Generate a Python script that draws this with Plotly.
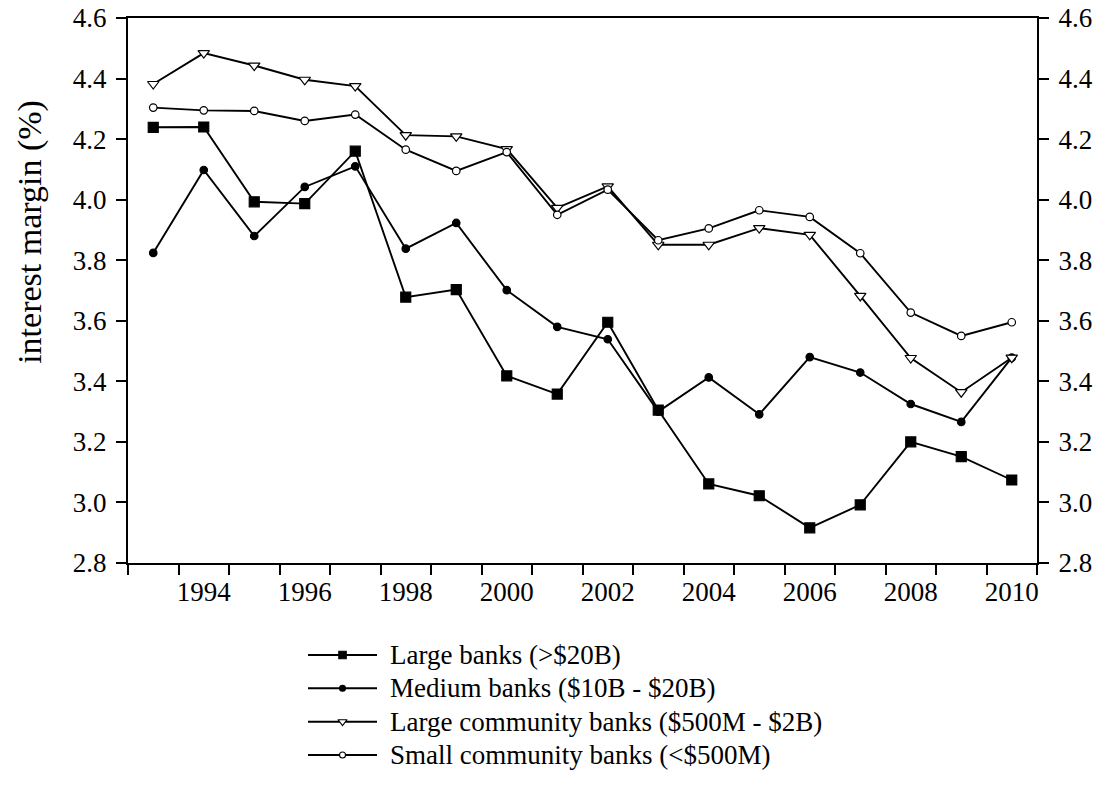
import plotly.graph_objects as go

years = list(range(1993, 2011))

large_banks = [4.239, 4.240, 3.993, 3.987, 4.160, 3.678, 3.703, 3.418, 3.358,
               3.595, 3.305, 3.061, 3.022, 2.916, 2.992, 3.200, 3.151, 3.074]
medium_banks = [3.824, 4.098, 3.880, 4.042, 4.110, 3.838, 3.923, 3.701, 3.580,
                3.539, 3.300, 3.413, 3.291, 3.480, 3.429, 3.325, 3.266, 3.478]
large_community = [4.382, 4.484, 4.443, 4.396, 4.375, 4.213, 4.209, 4.167, 3.973,
                   4.044, 3.851, 3.851, 3.906, 3.884, 3.682, 3.477, 3.364, 3.478]
small_community = [4.304, 4.295, 4.293, 4.260, 4.281, 4.165, 4.095, 4.157, 3.950,
                   4.033, 3.866, 3.905, 3.965, 3.943, 3.823, 3.627, 3.550, 3.595]

series_names = [
    "Large banks (>$20B)",
    "Medium banks ($10B - $20B)",
    "Large community banks ($500M - $2B)",
    "Small community banks (<$500M)",
]

label_years = list(range(1994, 2011, 2))
y_ticks = [2.8, 3.0, 3.2, 3.4, 3.6, 3.8, 4.0, 4.2, 4.4, 4.6]

FONT = "Liberation Serif, DejaVu Serif, serif"
BLACK = "#000000"

# marker styles: (symbol, size in plot, size in legend, fill)
styles = [
    ("square", 10, 7.5, BLACK),
    ("circle", 7.5, 6, BLACK),
    ("triangle-down", 10, 8, "white"),
    ("circle", 7.5, 6, "white"),
]
all_series = [large_banks, medium_banks, large_community, small_community]

fig = go.Figure()

for name, vals, (sym, size, _, fill) in zip(series_names, all_series, styles):
    fig.add_trace(go.Scatter(
        x=years, y=vals, name=name, mode="lines+markers",
        line=dict(color=BLACK, width=1.9),
        marker=dict(symbol=sym, size=size, color=fill,
                    line=dict(color=BLACK, width=1.2)),
        showlegend=False, xaxis="x", yaxis="y",
    ))

# invisible trace so the right-hand axis gets drawn
fig.add_trace(go.Scatter(x=[years[0]], y=[large_banks[0]], mode="markers",
                         marker=dict(opacity=0), showlegend=False,
                         hoverinfo="skip", xaxis="x", yaxis="y2"))

# legend drawn below the plot: a short line with the series marker in the middle
for row, (name, (sym, _, lsize, fill)) in enumerate(zip(series_names, styles), start=1):
    fig.add_trace(go.Scatter(
        x=[0, 1], y=[row, row], mode="lines",
        line=dict(color=BLACK, width=1.9), showlegend=False,
        hoverinfo="skip", xaxis="x2", yaxis="y3",
    ))
    fig.add_trace(go.Scatter(
        x=[0.5], y=[row], mode="markers",
        marker=dict(symbol=sym, size=lsize, color=fill,
                    line=dict(color=BLACK, width=1.1)),
        showlegend=False, hoverinfo="skip", xaxis="x2", yaxis="y3",
    ))
    fig.add_annotation(
        x=0.286, xref="paper", y=row, yref="y3",
        text=name, showarrow=False, xanchor="left", yanchor="middle",
        font=dict(family=FONT, size=27, color=BLACK),
    )

tick_font = dict(family=FONT, size=27, color=BLACK)
y_axis_common = dict(
    range=[2.8, 4.6], tickvals=y_ticks,
    ticktext=[f"{v:.1f}" for v in y_ticks],
    ticks="outside", ticklen=10, tickwidth=1.5, tickcolor=BLACK,
    showline=True, linecolor=BLACK, linewidth=2,
    showgrid=False, zeroline=False, tickfont=tick_font,
    ticklabelstandoff=4, automargin=False,
)

fig.update_layout(
    template="none",
    width=1098, height=801,
    margin=dict(l=128, r=61, t=18, b=0, autoexpand=False),
    paper_bgcolor="white", plot_bgcolor="white",
    font=dict(family=FONT, color=BLACK),
    xaxis=dict(
        domain=[0, 1], anchor="y",
        range=[1992.5, 2010.5],
        tickvals=label_years, ticktext=[str(y) for y in label_years],
        ticks="outside", ticklen=4, tickcolor="rgba(0,0,0,0)",
        minor=dict(ticks="outside", ticklen=10, tickwidth=1.5,
                   tickcolor=BLACK, tick0=1992.5, dtick=1, showgrid=False),
        showline=True, linecolor=BLACK, linewidth=2, mirror=True,
        showgrid=False, zeroline=False, tickfont=tick_font, automargin=False,
    ),
    yaxis=dict(domain=[0.304, 1], anchor="x", side="left", **y_axis_common),
    yaxis2=dict(overlaying="y", anchor="x", side="right", **y_axis_common),
    xaxis2=dict(domain=[0.198, 0.274], anchor="y3", range=[0, 1],
                visible=False, fixedrange=True, automargin=False),
    yaxis3=dict(domain=[0.0374, 0.2078], anchor="x2", range=[4.5, 0.5],
                visible=False, fixedrange=True, automargin=False),
)

fig.add_annotation(
    x=-0.108, xref="paper", y=(801 - 232) / 783, yref="paper",
    text="interest margin (%)", textangle=-90, showarrow=False,
    xanchor="center", yanchor="middle",
    font=dict(family=FONT, size=34, color=BLACK),
)

fig.write_html("out.html")
